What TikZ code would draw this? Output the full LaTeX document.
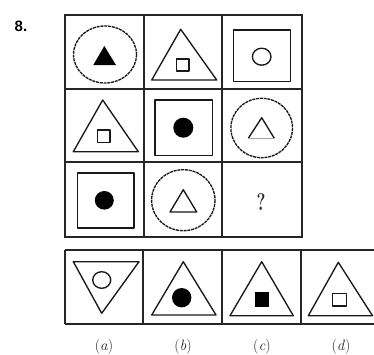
\documentclass[tikz,border=0pt]{standalone}
\usepackage{fontspec}
\newfontfamily\numfont{Liberation Sans}
\begin{document}
\begin{tikzpicture}[x=1pt,y=-1pt,
  grid/.style={line width=1.7pt,black!85},
  shp/.style={line width=1.35pt,black!90,line join=round},
  ring/.style={line width=1.35pt,black!90,dash pattern=on 3pt off 0.8pt},
  fil/.style={fill=black},
  lbl/.style={font=\fontsize{15}{17}\selectfont, inner sep=0pt, text=black!85}]
\useasboundingbox (0,0) rectangle (374,354);
% question number
\node[font=\numfont\bfseries\fontsize{15}{17}\selectfont, inner sep=0pt] (num) at (21,26) {8.};
% main grid
\draw[grid] (65,15) rectangle (302,237);
\draw[grid] (144,15) -- (144,237) (222,15) -- (222,237);
\draw[grid] (65,89) -- (302,89) (65,162) -- (302,162);
% row 1
\draw[ring] (105,54.5) ellipse (31.5 and 28.5);
\fill[fil] (104.3,46) -- (116,65) -- (93.3,65) -- cycle;
\draw[shp] (180.7,29.3) -- (216.7,80) -- (151.7,80) -- cycle;
\draw[shp] (176.7,59) rectangle (189,71);
\draw[shp] (233.3,30) rectangle (290.7,81.7);
\draw[shp] (261.7,56.7) ellipse (9.3 and 8.5);
% row 2
\draw[shp] (102.7,100) -- (138.3,151.7) -- (73.3,151.7) -- cycle;
\draw[shp] (97.3,130) rectangle (110,142.3);
\draw[shp] (155,100) rectangle (212.7,155.7);
\fill[fil] (183.3,127.7) ellipse (10 and 10);
\draw[ring] (261.7,128) ellipse (30.8 and 29.7);
\draw[shp] (248.3,138.3) -- (261.7,117.7) -- (274.3,138.3);
\draw[line width=0.9pt,black!35] (248.3,138.3) -- (274.3,138.3);
% row 3
\draw[shp] (77.3,173) rectangle (134,228);
\fill[fil] (104.3,200.3) ellipse (9.5 and 9.3);
\draw[ring] (183.3,200.2) ellipse (31.7 and 30.5);
\draw[shp] (183.3,189.7) -- (196.7,212) -- (170,212) -- cycle;
\node[font=\bfseries\fontsize{24}{26}\selectfont, text=black!85, xscale=0.7, inner sep=0pt] (q) at (261,202) {?};
% option row
\draw[grid] (65,250) -- (374,250) (65,324.3) -- (374,324.3);
\draw[grid] (65,250) -- (65,324.3) (143.3,250) -- (143.3,324.3)
  (222.3,250) -- (222.3,324.3) (300.7,250) -- (300.7,324.3);
% (a)
\draw[shp] (73.3,261.7) -- (139,261.7) -- (101.7,313.3) -- cycle;
\draw[shp] (101.7,280) ellipse (9 and 8.3);
% (b)
\draw[shp] (183.3,261.7) -- (216,315) -- (151.7,315) -- cycle;
\fill[fil] (181.7,297.7) ellipse (9.7 and 9.7);
% (c)
\draw[shp] (261.7,261.7) -- (293.3,315.7) -- (230,315.7) -- cycle;
\fill[fil] (255,291.7) rectangle (269.3,306.7);
% (d)
\draw[shp] (338.3,262.3) -- (372.5,315.7) -- (308.3,315.7) -- cycle;
\draw[shp] (332.7,293.3) rectangle (346.7,306);
% labels
\node[lbl] (la) at (104,347) {(\textit{a})};
\node[lbl] (lb) at (183,347) {(\textit{b})};
\node[lbl] (lc) at (262,347) {(\textit{c})};
\node[lbl] (ld) at (341,347) {(\textit{d})};
\end{tikzpicture}
\end{document}
